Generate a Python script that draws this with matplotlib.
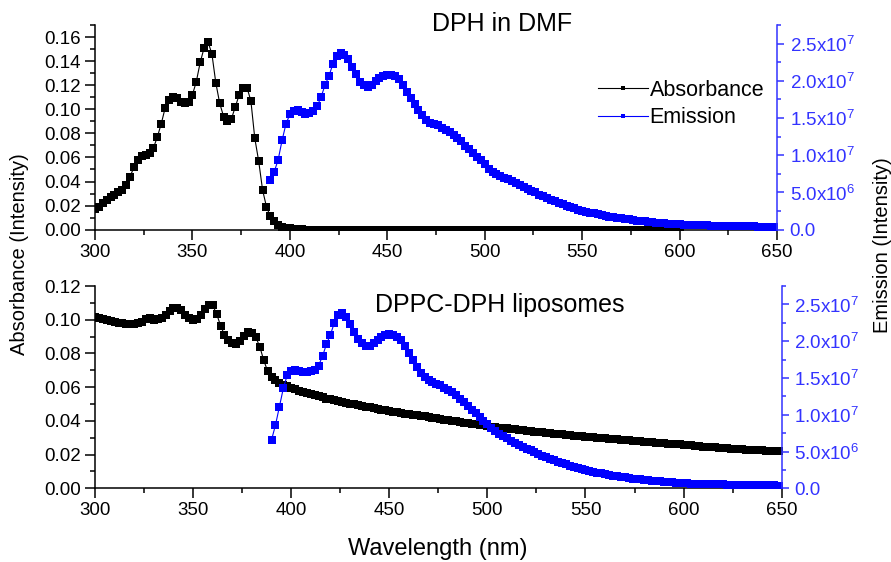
import numpy as np
import matplotlib
matplotlib.use("Agg")
import matplotlib.pyplot as plt
from matplotlib.ticker import MultipleLocator, FuncFormatter

plt.rcParams['font.family'] = ['Liberation Sans', 'DejaVu Sans']
plt.rcParams['mathtext.default'] = 'regular'

# DPH in DMF, absorbance, 300-600 nm every 2 nm
abs_dmf = [
    0.017, 0.019, 0.022, 0.025, 0.027, 0.029, 0.031, 0.033, 0.037, 0.044,
    0.052, 0.058, 0.061, 0.062, 0.064, 0.068, 0.077, 0.088, 0.101, 0.108,
    0.110, 0.109, 0.106, 0.105, 0.106, 0.112, 0.123, 0.139, 0.151, 0.156,
    0.146, 0.122, 0.105, 0.094, 0.090, 0.092, 0.102, 0.112, 0.118, 0.118,
    0.107, 0.076, 0.057, 0.033, 0.019, 0.011, 0.007, 0.004, 0.0025, 0.0015,
    0.001, 0.0006, 0.0004, 0.0002, 0.0001, 0.0, 0.0, 0.0, 0.0, 0.0,
    0.0, 0.0, 0.0, 0.0, 0.0, 0.0, 0.0, 0.0, 0.0, 0.0,
    0.0, 0.0, 0.0, 0.0, 0.0, 0.0, 0.0, 0.0, 0.0, 0.0,
    0.0, 0.0, 0.0, 0.0, 0.0, 0.0, 0.0, 0.0, 0.0, 0.0,
    0.0, 0.0, 0.0, 0.0, 0.0, 0.0, 0.0, 0.0, 0.0, 0.0,
    0.0, 0.0, 0.0, 0.0, 0.0, 0.0, 0.0, 0.0, 0.0, 0.0,
    0.0, 0.0, 0.0, 0.0, 0.0, 0.0, 0.0, 0.0, 0.0, 0.0,
    0.0, 0.0, 0.0, 0.0, 0.0, 0.0, 0.0, 0.0, 0.0, 0.0,
    0.0, 0.0, 0.0, 0.0, 0.0, 0.0, 0.0, 0.0, 0.0, 0.0,
    0.0, 0.0, 0.0, 0.0, 0.0, 0.0, 0.0, 0.0, 0.0, 0.0,
    0.0,
]

# DPH in DMF, emission (x1e7), 390-650 nm every 2 nm
em_dmf = [
    0.67, 0.78, 0.94, 1.20, 1.42, 1.55, 1.60, 1.61, 1.58, 1.55,
    1.57, 1.60, 1.66, 1.78, 1.94, 2.06, 2.22, 2.33, 2.37, 2.35,
    2.30, 2.19, 2.09, 1.99, 1.94, 1.92, 1.95, 2.00, 2.04, 2.07,
    2.08, 2.08, 2.06, 2.02, 1.94, 1.85, 1.77, 1.69, 1.61, 1.54,
    1.48, 1.44, 1.42, 1.40, 1.37, 1.34, 1.31, 1.27, 1.23, 1.19,
    1.13, 1.08, 1.03, 0.98, 0.93, 0.88, 0.82, 0.78, 0.75, 0.72,
    0.70, 0.68, 0.66, 0.63, 0.60, 0.58, 0.55, 0.52, 0.50, 0.47,
    0.45, 0.42, 0.40, 0.38, 0.36, 0.34, 0.32, 0.30, 0.285, 0.27,
    0.255, 0.24, 0.23, 0.22, 0.205, 0.195, 0.185, 0.175, 0.168, 0.16,
    0.153, 0.145, 0.138, 0.13, 0.123, 0.118, 0.112, 0.105, 0.098, 0.094,
    0.09, 0.085, 0.08, 0.077, 0.074, 0.071, 0.068, 0.066, 0.064, 0.062,
    0.060, 0.060, 0.058, 0.056, 0.054, 0.052, 0.051, 0.050, 0.049, 0.048,
    0.047, 0.046, 0.045, 0.044, 0.043, 0.042, 0.042, 0.041, 0.040, 0.040,
    0.040,
]

# DPPC-DPH liposomes, absorbance, 300-650 nm every 2 nm
abs_lipo = [
    0.1017, 0.1010, 0.1003, 0.0997, 0.0992, 0.0987, 0.0982, 0.0978, 0.0975, 0.0974,
    0.0976, 0.0980, 0.0988, 0.1002, 0.1010, 0.1000, 0.1005, 0.1012, 0.1030, 0.1050,
    0.1068, 0.1070, 0.1055, 0.1030, 0.1008, 0.0998, 0.1005, 0.1030, 0.1065, 0.1088,
    0.1085, 0.1035, 0.0965, 0.0910, 0.0880, 0.0860, 0.0858, 0.0875, 0.0905, 0.0925,
    0.0922, 0.0895, 0.0840, 0.0760, 0.0695, 0.0660, 0.0640, 0.0625, 0.0615, 0.0605,
    0.0596, 0.0588, 0.0580, 0.0572, 0.0565, 0.0558, 0.0551, 0.0545, 0.0539, 0.0532,
    0.0527, 0.0522, 0.0517, 0.0512, 0.0508, 0.0503, 0.0498, 0.0494, 0.0490, 0.0485,
    0.0481, 0.0476, 0.0472, 0.0467, 0.0462, 0.0458, 0.0454, 0.0450, 0.0446, 0.0443,
    0.0439, 0.0436, 0.0432, 0.0429, 0.0426, 0.0422, 0.0418, 0.0415, 0.0411, 0.0408,
    0.0404, 0.0400, 0.0397, 0.0394, 0.0390, 0.0387, 0.0384, 0.0380, 0.0377, 0.0373,
    0.0370, 0.0366, 0.0363, 0.0360, 0.0357, 0.0355, 0.0352, 0.0349, 0.0347, 0.0344,
    0.0342, 0.0340, 0.0337, 0.0335, 0.0332, 0.0330, 0.0327, 0.0325, 0.0322, 0.0320,
    0.0318, 0.0315, 0.0313, 0.0311, 0.0309, 0.0307, 0.0304, 0.0302, 0.0300, 0.0298,
    0.0296, 0.0294, 0.0292, 0.0290, 0.0288, 0.0286, 0.0284, 0.0282, 0.0280, 0.0278,
    0.0276, 0.0274, 0.0272, 0.0270, 0.0268, 0.0266, 0.0264, 0.0263, 0.0261, 0.0260,
    0.0258, 0.0256, 0.0254, 0.0252, 0.0250, 0.0248, 0.0247, 0.0245, 0.0243, 0.0241,
    0.0240, 0.0238, 0.0236, 0.0235, 0.0233, 0.0232, 0.0230, 0.0229, 0.0227, 0.0226,
    0.0225, 0.0224, 0.0222, 0.0221, 0.0220, 0.0219,
]

# DPPC-DPH liposomes, emission (x1e7), 390-650 nm every 2 nm
em_lipo = [
    0.66, 0.86, 1.11, 1.36, 1.54, 1.60, 1.61, 1.60, 1.58, 1.58,
    1.59, 1.61, 1.67, 1.80, 1.96, 2.09, 2.25, 2.35, 2.38, 2.33,
    2.24, 2.12, 2.03, 1.97, 1.93, 1.94, 1.98, 2.02, 2.06, 2.09,
    2.10, 2.09, 2.06, 2.01, 1.93, 1.84, 1.74, 1.65, 1.57, 1.51,
    1.47, 1.44, 1.42, 1.40, 1.37, 1.34, 1.31, 1.27, 1.22, 1.17,
    1.12, 1.07, 1.02, 0.97, 0.92, 0.87, 0.82, 0.78, 0.74, 0.71,
    0.68, 0.65, 0.62, 0.59, 0.565, 0.54, 0.515, 0.49, 0.465, 0.44,
    0.42, 0.40, 0.38, 0.36, 0.345, 0.33, 0.31, 0.295, 0.28, 0.265,
    0.25, 0.238, 0.226, 0.215, 0.204, 0.194, 0.184, 0.174, 0.165, 0.156,
    0.148, 0.14, 0.133, 0.126, 0.12, 0.114, 0.108, 0.103, 0.098, 0.093,
    0.088, 0.084, 0.08, 0.076, 0.073, 0.07, 0.067, 0.065, 0.062, 0.06,
    0.059, 0.058, 0.056, 0.055, 0.054, 0.052, 0.051, 0.05, 0.049, 0.048,
    0.047, 0.046, 0.045, 0.044, 0.043, 0.042, 0.041, 0.040, 0.039, 0.038,
    0.037,
]

BLUE = '#0000ff'
AXBLUE = '#3333ff'
TICK_FS = 13.5


def wl_grid(start, values):
    return start + 2 * np.arange(len(values))


def sci_fmt(v, pos):
    if abs(v) < 1:
        return '0.0'
    if v < 0:
        return ''
    exp = int(np.floor(np.log10(v) + 1e-9))
    return f"{v / 10**exp:.1f}x10$^{{{exp}}}$"


def style_panel(ax, ax2, ytop_left, ytop_right):
    ax.set_xlim(300, 650)
    ax.set_ylim(0, ytop_left)
    ax2.set_ylim(0, ytop_right)
    for s in ['top', 'right']:
        ax.spines[s].set_visible(False)
    for s in ['top', 'left', 'bottom']:
        ax2.spines[s].set_visible(False)
    ax.spines['left'].set_linewidth(1.1)
    ax.spines['bottom'].set_linewidth(1.1)
    ax2.spines['right'].set_linewidth(1.1)
    ax2.spines['right'].set_color(AXBLUE)

    ax.xaxis.set_major_locator(MultipleLocator(50))
    ax.xaxis.set_minor_locator(MultipleLocator(25))
    ax.yaxis.set_major_locator(MultipleLocator(0.02))
    ax.yaxis.set_minor_locator(MultipleLocator(0.01))
    ax.yaxis.set_major_formatter(FuncFormatter(lambda v, p: f"{abs(v):.2f}"))
    ax.tick_params(which='major', direction='out', length=7, width=1.1,
                   labelsize=TICK_FS, pad=3)
    ax.tick_params(which='minor', direction='out', length=3.5, width=1.1)

    ax2.yaxis.set_major_locator(MultipleLocator(5e6))
    ax2.yaxis.set_minor_locator(MultipleLocator(2.5e6))
    ax2.yaxis.set_major_formatter(FuncFormatter(sci_fmt))
    ax2.tick_params(which='major', direction='out', length=5, width=1.1,
                    labelsize=TICK_FS, colors=AXBLUE, pad=4)
    ax2.tick_params(which='minor', direction='out', length=3, width=1.1,
                    colors=AXBLUE)


fig = plt.figure(figsize=(8.91, 5.62), dpi=100)
ax_top = fig.add_axes([0.1066, 0.5913, 0.7655, 0.3642])
ax_bot = fig.add_axes([0.1066, 0.1311, 0.7707, 0.3600])
ax_top2 = ax_top.twinx()
ax_bot2 = ax_bot.twinx()

mk = dict(marker='s', markersize=6.0, markeredgewidth=0, linewidth=0.8)

la, = ax_top.plot(wl_grid(300, abs_dmf), abs_dmf, color='black', label='Absorbance', **mk)
le, = ax_top2.plot(wl_grid(390, em_dmf), np.array(em_dmf) * 1e7, color=BLUE, label='Emission', **mk)
ax_bot.plot(wl_grid(300, abs_lipo), abs_lipo, color='black', **mk)
ax_bot2.plot(wl_grid(390, em_lipo), np.array(em_lipo) * 1e7, color=BLUE, **mk)

style_panel(ax_top, ax_top2, 0.17, 2.75e7)
style_panel(ax_bot, ax_bot2, 0.12, 2.751e7)

ax_top.text(0.597, 1.005, 'DPH in DMF', transform=ax_top.transAxes,
            ha='center', va='center', fontsize=18)
ax_bot.text(0.59, 0.905, 'DPPC-DPH liposomes', transform=ax_bot.transAxes,
            ha='center', va='center', fontsize=18)

fig.legend(handles=[la, le], loc='upper left', bbox_to_anchor=(598 / 891, 1 - 80 / 562),
           frameon=False, fontsize=15.5, borderpad=0, borderaxespad=0,
           handlelength=2.3, handletextpad=0.1, labelspacing=0.3, markerscale=0.45)

fig.text(20 / 891, 1 - 254 / 562, 'Absorbance (Intensity)', rotation=90,
         ha='center', va='center', fontsize=14.5)
fig.text(882 / 891, 1 - 245 / 562, 'Emission (Intensity)', rotation=90,
         ha='center', va='center', fontsize=14.5)
fig.text(438 / 891, 1 - 549 / 562, 'Wavelength (nm)', ha='center', va='center',
         fontsize=17)

fig.savefig('out.png', dpi=100)
